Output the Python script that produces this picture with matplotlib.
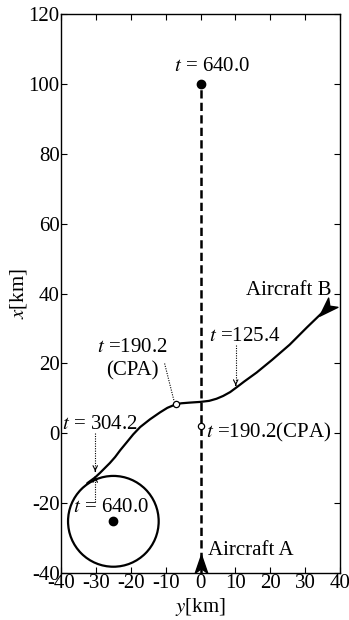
import numpy as np
import matplotlib
matplotlib.use("Agg")
import matplotlib.pyplot as plt
from matplotlib.path import Path
from matplotlib.markers import MarkerStyle
from matplotlib.transforms import Affine2D
from matplotlib.patches import Circle

plt.rcParams['font.family'] = ['Liberation Serif', 'DejaVu Serif']
plt.rcParams['mathtext.fontset'] = 'stix'
plt.rcParams['axes.unicode_minus'] = False

# aircraft B trajectory (y, x) in km
b_y = [35.8, 30.5, 25.6, 20.5, 16.1, 12.5, 10.4, 8.5, 6.5, 4.6, 2.5, 0.0, -3.0, -5.5,
       -7.1, -9.5, -11.6, -14.5, -17.3, -19.3, -21.1, -23.0, -24.5, -26.0, -27.4, -28.8,
       -30.2, -32.5]
b_x = [35.4, 30.3, 25.4, 21.0, 17.4, 14.8, 13.2, 11.8, 10.7, 9.9, 9.3, 9.0, 8.8, 8.6,
       8.3, 7.3, 6.0, 4.0, 1.8, -0.3, -2.5, -4.8, -6.8, -8.5, -9.9, -11.3,
       -12.6, -14.3]

# aircraft A path
a_y = [0, 0]
a_x = [-40, 100]

# loiter circle of B
circ_center = (-25.0, -25.2)
circ_radius = 13.0

# special points
a_end = (0, 100)
a_cpa = (0, 2.0)
b_cpa = (-7.1, 8.3)
b_end = (-25.0, -25.2)

xticks = [-40, -30, -20, -10, 0, 10, 20, 30, 40]
yticks = [-40, -20, 0, 20, 40, 60, 80, 100, 120]

fig = plt.figure(figsize=(3.49, 6.2), dpi=100)
ax = fig.add_axes([0.175, 0.0758, 0.799, 0.9012])

# aircraft A dashed line
ax.plot(a_y, a_x, color='black', lw=1.8, dashes=(3.3, 1.7), zorder=2)
# aircraft B trajectory
ax.plot(b_y, b_x, color='black', lw=1.6, solid_capstyle='round', zorder=3)
ax.add_patch(Circle(circ_center, circ_radius, fill=False, color='black', lw=1.6, zorder=3))

ax.plot(*a_end, 'o', color='black', ms=6, zorder=4)
ax.plot(*b_end, 'o', color='black', ms=6, zorder=4)
ax.plot(*a_cpa, 'o', mfc='white', mec='black', ms=4.5, mew=0.9, zorder=4)
ax.plot(*b_cpa, 'o', mfc='white', mec='black', ms=4.5, mew=0.9, zorder=4)

# aircraft arrowhead markers
head = Path([(0, 1), (-0.6, -0.75), (0, -0.3), (0.6, -0.75), (0, 1)],
            [Path.MOVETO, Path.LINETO, Path.LINETO, Path.LINETO, Path.CLOSEPOLY])
head_b = head.transformed(Affine2D().rotate_deg(135))
ax.plot(0, -37.8, marker=MarkerStyle(head), color='black', ms=15, zorder=5)
ax.plot(36.3, 35.9, marker=MarkerStyle(head_b), color='black', ms=15, zorder=5)


def dotted_arrow(start, tip, head=True):
    ax.plot([start[0], tip[0]], [start[1], tip[1]], color='black', lw=0.8, ls=(0, (1, 1.2)))
    if head:
        d = np.subtract(start, tip)
        near = np.add(tip, 0.05 * d / np.hypot(*d))
        ax.annotate('', xy=tip, xytext=near,
                    arrowprops=dict(arrowstyle='->', lw=0.8, color='black',
                                    mutation_scale=8, shrinkA=0, shrinkB=0))


dotted_arrow((-30.2, 0.2), (-30.2, -10.9))
dotted_arrow((-30.2, -19.6), (-30.2, -12.4))
dotted_arrow((10.1, 25.2), (10.1, 13.7))
dotted_arrow((-10.3, 20.0), (-7.6, 9.3), head=False)

fs = 15
ax.text(3.2, 104.9, r'$t$ = 640.0', ha='center', va='center', fontsize=fs)
ax.text(-19.5, 24.7, r'$t$ =190.2', ha='center', va='center', fontsize=fs)
ax.text(-19.5, 18.0, '(CPA)', ha='center', va='center', fontsize=fs)
ax.text(12.7, 27.7, r'$t$ =125.4', ha='center', va='center', fontsize=fs)
ax.text(-28.8, 2.5, r'$t$ = 304.2', ha='center', va='center', fontsize=fs)
ax.text(-25.6, -21.2, r'$t$ = 640.0', ha='center', va='center', fontsize=fs)
ax.text(1.5, 0.3, r'$t$ =190.2(CPA)', ha='left', va='center', fontsize=fs)
ax.text(25.4, 40.9, 'Aircraft B', ha='center', va='center', fontsize=fs)
ax.text(14.5, -33.6, 'Aircraft A', ha='center', va='center', fontsize=fs)

ax.set_xlim(-40, 40)
ax.set_ylim(-40, 120)
ax.set_xticks(xticks)
ax.set_yticks(yticks)
ax.set_xticklabels([str(v) for v in xticks])
ax.set_yticklabels([str(v) for v in yticks])
ax.tick_params(direction='in', top=True, right=True, length=4, width=0.8,
               labelsize=fs, pad=1)
ax.set_xlabel(r'$y$[km]', fontsize=fs, labelpad=2)
ax.set_ylabel(r'$x$[km]', fontsize=fs, labelpad=0)
for s in ax.spines.values():
    s.set_linewidth(1.0)

fig.savefig('out.png', dpi=100)
